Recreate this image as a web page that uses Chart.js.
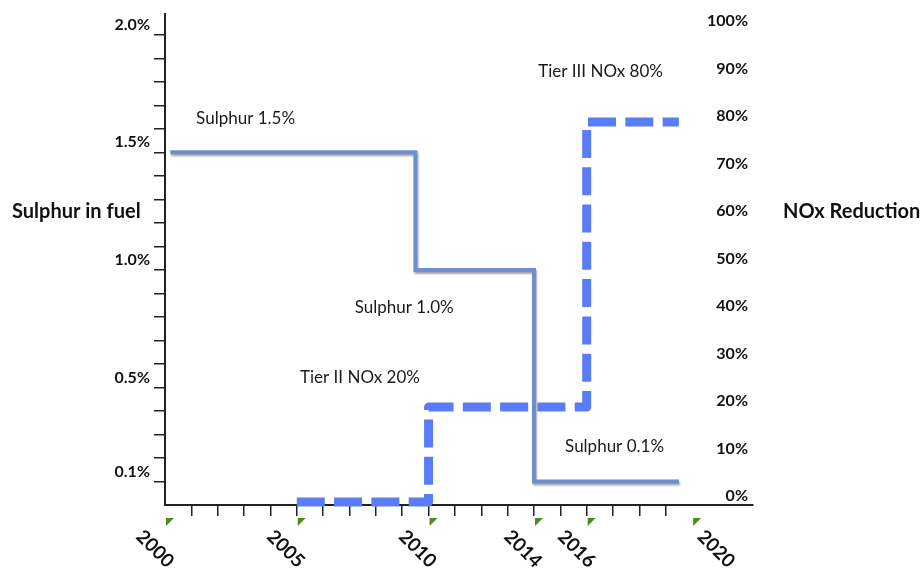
<!DOCTYPE html>
<html>
<head>
<meta charset="utf-8">
<script src="https://cdn.jsdelivr.net/npm/chart.js@4.4.1/dist/chart.umd.min.js"></script>
<style>
  html, body { margin: 0; padding: 0; background: #ffffff; }
  canvas { display: block; }
</style>
</head>
<body>
<canvas id="chart" width="924" height="574"></canvas>
<script>
// Sulphur limit in fuel (% by mass), held between step changes
const sulphurYears = [2000.2, 2009.5, 2014, 2019.5];
const sulphurPct = [1.5, 1.0, 0.1, 0.1];

// Required NOx reduction (%), held between step changes
const noxYears = [2005, 2010, 2016, 2019.5];
const noxPct = [0, 20, 80, 80];

// Axis labels
const yearLabels = ['2000', '2005', '2010', '2014', '2016', '2020'];
const sulphurTickValues = [0.1, 0.5, 1.0, 1.5, 2.0];
const sulphurTickLabels = ['0.1%', '0.5%', '1.0%', '1.5%', '2.0%'];
const noxTickValues = [0, 10, 20, 30, 40, 50, 60, 70, 80, 90, 100];
const noxTickLabels = ['0%', '10%', '20%', '30%', '40%', '50%', '60%', '70%', '80%', '90%', '100%'];

// Callouts beside the steps
const noteTexts = ['Sulphur 1.5%', 'Tier III NOx 80%', 'Sulphur 1.0%', 'Tier II NOx 20%', 'Sulphur 0.1%'];
const noteYears = [2001.18, 2014.16, 2007.2, 2005.12, 2015.18];
const noteValues = [1.645, 90.6, 0.841, 26.3, 0.247];
const noteAxes = ['ySulphur', 'yNox', 'ySulphur', 'yNox', 'ySulphur'];

// horizontal nudge (px) of each rotated year label from its tick
const yearLabelNudge = [-10, -11, -11, -11, -10, 24];

const FONT = 'Lato, "Open Sans", sans-serif';
Chart.defaults.font.family = FONT;

const sulphurPoints = sulphurYears.map((yr, i) => ({ x: yr, y: sulphurPct[i] }));
const noxPoints = noxYears.map((yr, i) => ({ x: yr, y: noxPct[i] }));

const decorations = {
  id: 'decorations',
  beforeDatasetDraw(chart, args) {
    if (args.index === 0) {
      const ctx = chart.ctx;
      ctx.save();
      ctx.shadowColor = 'rgba(0,0,0,0.35)';
      ctx.shadowOffsetX = 1;
      ctx.shadowOffsetY = 2;
      ctx.shadowBlur = 2;
    }
  },
  afterDatasetDraw(chart, args) {
    if (args.index === 0) chart.ctx.restore();
  },
  afterDraw(chart) {
    const { ctx, scales } = chart;
    const x = scales.x;
    ctx.save();

    // year markers and rotated year labels
    yearLabels.forEach((lab, i) => {
      const px = x.getPixelForValue(Number(lab));
      const top = x.top + 13;
      ctx.fillStyle = '#4a8c1c';
      ctx.beginPath();
      ctx.moveTo(px + 1, top);
      ctx.lineTo(px + 9, top);
      ctx.lineTo(px + 1, top + 8);
      ctx.closePath();
      ctx.fill();

      ctx.save();
      ctx.translate(px + yearLabelNudge[i], x.top + 44);
      ctx.rotate(Math.PI / 4);
      ctx.font = 'bold 19px ' + FONT;
      ctx.fillStyle = '#111111';
      ctx.textAlign = 'center';
      ctx.textBaseline = 'middle';
      ctx.fillText(lab, 0, 0);
      ctx.restore();
    });

    // axis titles
    ctx.font = 'bold 20px ' + FONT;
    ctx.fillStyle = '#111111';
    ctx.textBaseline = 'middle';
    ctx.textAlign = 'left';
    ctx.fillText('Sulphur in fuel', 12, 212);
    ctx.fillText('NOx Reduction', 783, 212);

    // callouts
    ctx.font = '17px ' + FONT;
    ctx.fillStyle = '#1a1a1a';
    noteTexts.forEach((t, i) => {
      const px = x.getPixelForValue(noteYears[i]);
      const py = scales[noteAxes[i]].getPixelForValue(noteValues[i]);
      ctx.fillText(t, px, py);
    });

    ctx.restore();
  }
};

new Chart(document.getElementById('chart'), {
  type: 'line',
  data: {
    datasets: [
      {
        label: 'Sulphur in fuel',
        data: sulphurPoints,
        yAxisID: 'ySulphur',
        stepped: 'before',
        borderColor: '#6e8fce',
        borderWidth: 4,
        pointRadius: 0,
        fill: false,
        clip: false
      },
      {
        label: 'NOx Reduction',
        data: noxPoints,
        yAxisID: 'yNox',
        stepped: 'before',
        borderColor: '#5b7cf7',
        borderWidth: 9,
        borderDash: [28, 9.3],
        borderJoinStyle: 'round',
        pointRadius: 0,
        fill: false,
        clip: false
      }
    ]
  },
  options: {
    responsive: false,
    devicePixelRatio: 1,
    animation: false,
    events: [],
    layout: { padding: { top: 12, left: 0, right: 0, bottom: 0 } },
    plugins: { legend: { display: false }, tooltip: { enabled: false } },
    scales: {
      x: {
        type: 'linear',
        position: 'bottom',
        min: 2000,
        max: 2022.31,
        afterBuildTicks: (s) => {
          const t = [];
          for (let yr = 2001; yr <= 2019; yr++) t.push({ value: yr });
          s.ticks = t;
        },
        afterFit: (s) => { s.height = 69; },
        ticks: { display: false, autoSkip: false },
        grid: { drawOnChartArea: false, drawTicks: true, tickLength: 11, color: '#222222', lineWidth: 1.5 },
        border: { display: true, color: '#222222', width: 2 }
      },
      ySulphur: {
        type: 'linear',
        position: 'left',
        min: 0,
        max: 2.09,
        afterBuildTicks: (s) => {
          const t = [];
          for (let i = 1; i <= 20; i++) t.push({ value: i / 10 });
          s.ticks = t;
        },
        afterFit: (s) => { s.width = 165; },
        ticks: {
          autoSkip: false,
          padding: 4,
          labelOffset: -10,
          color: '#111111',
          font: { size: 16, weight: 'bold' },
          callback: (v) => {
            const k = sulphurTickValues.findIndex((w) => Math.abs(w - v) < 1e-6);
            return k >= 0 ? sulphurTickLabels[k] : '';
          }
        },
        grid: { drawOnChartArea: false, drawTicks: true, tickLength: 11, color: '#222222', lineWidth: 1.5 },
        border: { display: true, color: '#222222', width: 2 }
      },
      yNox: {
        type: 'linear',
        position: 'right',
        min: -0.61,
        max: 102.8,
        afterBuildTicks: (s) => { s.ticks = noxTickValues.map((v) => ({ value: v })); },
        afterFit: (s) => { s.width = 171; },
        ticks: {
          autoSkip: false,
          mirror: true,
          padding: -5,
          labelOffset: -6,
          color: '#111111',
          font: { size: 16, weight: 'bold' },
          callback: (v) => {
            const k = noxTickValues.indexOf(v);
            return k >= 0 ? noxTickLabels[k] : '';
          }
        },
        grid: { display: false },
        border: { display: false }
      }
    }
  },
  plugins: [decorations]
});
</script>
</body>
</html>
